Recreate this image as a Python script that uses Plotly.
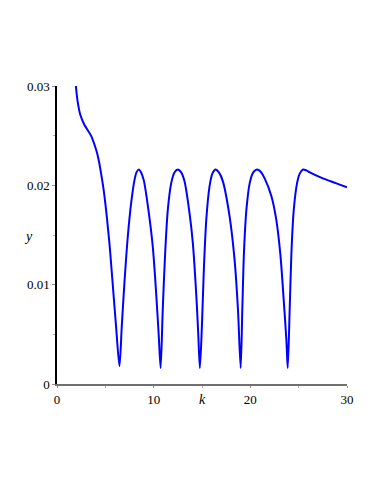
import plotly.graph_objects as go

# values
k_vals = [
    1.95, 2.14, 2.41, 2.83, 3.52, 4.04, 4.28, 4.56, 4.90, 5.42, 5.76, 6.11, 6.46,
    6.70, 6.97, 7.32, 7.67, 8.01, 8.22, 8.46, 8.70, 8.98, 9.46, 9.91, 10.26, 10.53, 10.72,
    10.94, 11.19, 11.46, 11.81, 12.15, 12.50, 12.85, 13.19, 13.71, 14.05, 14.40, 14.61, 14.78,
    14.99, 15.19, 15.44, 15.78, 16.08, 16.40, 16.75, 17.16, 17.85, 18.37, 18.72, 19.00,
    19.17, 19.34, 19.59, 19.93, 20.30, 20.68, 21.05, 21.48, 22.18, 22.69, 23.11, 23.45, 23.73, 23.87,
    24.07, 24.25, 24.49, 24.83, 25.12, 25.45, 25.80, 26.15, 27.50, 28.90, 30.00,
]
y_vals = [
    0.0300, 0.0284, 0.0271, 0.0261, 0.0250, 0.0236, 0.0227, 0.0212, 0.0190, 0.0142, 0.0101, 0.0058, 0.0018,
    0.0058, 0.0101, 0.0148, 0.0182, 0.0205, 0.0213, 0.0216, 0.0213, 0.0205, 0.0175, 0.0138, 0.0091, 0.0048, 0.0016,
    0.0075, 0.0132, 0.0175, 0.0202, 0.0213, 0.0216, 0.0213, 0.0204, 0.0172, 0.0142, 0.0091, 0.0051, 0.0016,
    0.0058, 0.0115, 0.0165, 0.0199, 0.0212, 0.0216, 0.0213, 0.0204, 0.0169, 0.0125, 0.0075, 0.0016,
    0.0075, 0.0132, 0.0175, 0.0202, 0.0213, 0.0216, 0.0214, 0.0207, 0.0189, 0.0165, 0.0130, 0.0085, 0.0044, 0.0016,
    0.0075, 0.0132, 0.0175, 0.0202, 0.0212, 0.0216, 0.0215, 0.0213, 0.0207, 0.0202, 0.0198,
]

x_ticks = [0, 10, 20, 30]
y_ticks = [0, 0.01, 0.02, 0.03]
y_labels = ["0", "0.01", "0.02", "0.03"]

SERIF = "Liberation Serif"

fig = go.Figure()
fig.add_trace(
    go.Scatter(
        x=k_vals,
        y=y_vals,
        mode="lines",
        line=dict(color="#0000ff", width=2, shape="spline", smoothing=0.8),
        showlegend=False,
    )
)

# page body has an 8px margin, so the figure is shrunk by that much
fig.update_layout(
    width=374,
    height=486,
    margin=dict(l=49, r=35, t=78, b=110),
    paper_bgcolor="white",
    plot_bgcolor="white",
    font=dict(family=SERIF, size=13, color="black"),
    xaxis=dict(
        range=[0, 30],
        tickvals=x_ticks,
        showgrid=False,
        zeroline=False,
        showline=True,
        linecolor="#707070",
        linewidth=2,
        ticks="outside",
        ticklen=2,
        tickcolor="#909090",
        tickfont=dict(family=SERIF, size=13, color="black"),
        minor=dict(tickvals=[5, 15, 25], ticks="outside", ticklen=2, tickcolor="#b0b0b0"),
    ),
    yaxis=dict(
        range=[0, 0.03],
        tickvals=y_ticks,
        ticktext=y_labels,
        showgrid=False,
        zeroline=False,
        showline=True,
        linecolor="black",
        linewidth=1.5,
        ticks="outside",
        ticklen=3,
        tickcolor="#909090",
        tickfont=dict(family=SERIF, size=13, color="black"),
        minor=dict(tickvals=[0.005, 0.015, 0.025], ticks="outside", ticklen=2, tickcolor="#b0b0b0"),
    ),
    annotations=[
        dict(text="<i>k</i>", x=0.5, y=-0.085, xref="paper", yref="paper",
             showarrow=False, font=dict(family=SERIF, size=14)),
        dict(text="<i>y</i>", x=-0.12, y=0.495, xref="paper", yref="paper",
             showarrow=False, font=dict(family=SERIF, size=14)),
    ],
)

fig.write_html("out.html")
